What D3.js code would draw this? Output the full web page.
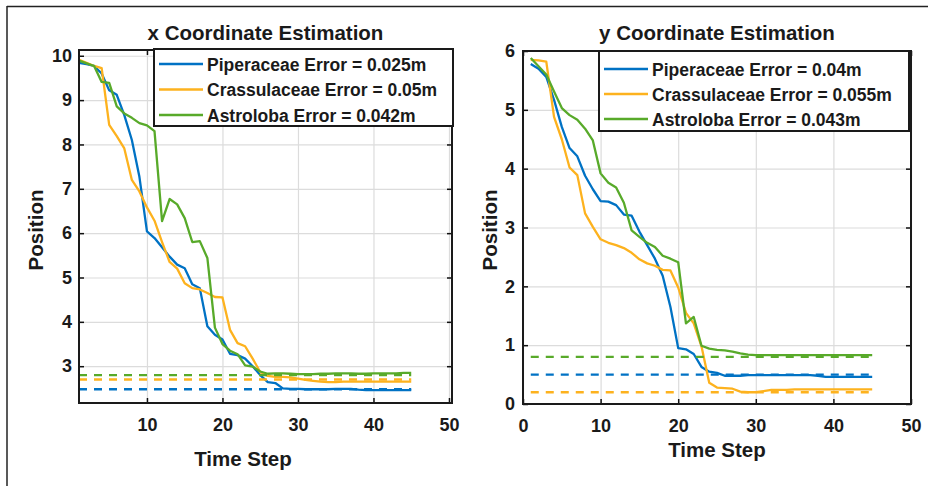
<!DOCTYPE html>
<html><head><meta charset="utf-8">
<script src="https://cdn.jsdelivr.net/npm/d3@7/dist/d3.min.js"></script>
<style>
html,body{margin:0;padding:0;background:#fff;}
svg{display:block;font-family:"Liberation Sans",Arial,sans-serif;}
</style></head>
<body><svg id="chart" width="928" height="486"></svg>
<script>
// ---------- data ----------
const timeSteps = [1,2,3,4,5,6,7,8,9,10,11,12,13,14,15,16,17,18,19,20,21,22,23,24,25,26,27,28,29,30,31,32,33,34,35,36,37,38,39,40,41,42,43,44,45];
const seriesNames = ["Piperaceae","Crassulaceae","Astroloba"];

// x coordinate estimation
const xPiperaceae = [9.84,9.81,9.77,9.6,9.22,9.12,8.66,8.1,7.27,6.04,5.89,5.68,5.47,5.29,5.21,4.85,4.76,3.9,3.71,3.6,3.28,3.25,3.17,3.0,2.8,2.64,2.62,2.5,2.49,2.49,2.48,2.48,2.48,2.48,2.49,2.49,2.49,2.47,2.46,2.46,2.46,2.46,2.46,2.46,2.46];
const xCrassulaceae = [9.91,9.84,9.77,9.72,8.44,8.19,7.91,7.2,6.94,6.58,6.28,5.8,5.35,5.2,4.87,4.76,4.73,4.65,4.56,4.55,3.82,3.52,3.45,3.17,2.87,2.78,2.76,2.76,2.75,2.72,2.69,2.67,2.65,2.64,2.64,2.65,2.65,2.65,2.65,2.65,2.65,2.65,2.65,2.65,2.65];
const xAstroloba = [9.89,9.83,9.77,9.41,9.39,8.86,8.7,8.6,8.48,8.43,8.3,6.27,6.77,6.65,6.34,5.8,5.82,5.44,3.87,3.5,3.35,3.27,3.02,2.99,2.88,2.83,2.84,2.84,2.83,2.82,2.82,2.82,2.83,2.83,2.84,2.84,2.84,2.83,2.83,2.84,2.84,2.84,2.84,2.85,2.85];
const xTrue = [2.48,2.7,2.8];
const xErrors = ["0.025m","0.05m","0.042m"];

// y coordinate estimation
const yPiperaceae = [5.78,5.7,5.56,5.17,4.71,4.35,4.21,3.88,3.65,3.45,3.44,3.38,3.22,3.2,2.93,2.7,2.47,2.18,1.65,0.95,0.93,0.85,0.63,0.55,0.53,0.48,0.48,0.48,0.49,0.49,0.49,0.49,0.49,0.49,0.49,0.49,0.49,0.48,0.46,0.46,0.46,0.46,0.46,0.46,0.46];
const yCrassulaceae = [5.85,5.84,5.82,4.88,4.5,4.02,3.89,3.24,3.01,2.8,2.74,2.7,2.65,2.57,2.46,2.39,2.35,2.28,2.27,1.98,1.55,1.37,0.98,0.36,0.28,0.27,0.26,0.21,0.2,0.2,0.22,0.24,0.24,0.24,0.25,0.25,0.25,0.25,0.25,0.25,0.25,0.25,0.25,0.25,0.25];
const yAstroloba = [5.88,5.74,5.6,5.31,5.03,4.91,4.83,4.68,4.48,3.92,3.76,3.68,3.42,2.95,2.84,2.74,2.67,2.52,2.47,2.41,1.37,1.48,0.99,0.94,0.92,0.91,0.89,0.86,0.84,0.83,0.83,0.83,0.83,0.83,0.83,0.83,0.83,0.83,0.83,0.83,0.83,0.83,0.83,0.83,0.83];
const yTrue = [0.5,0.2,0.8];
const yErrors = ["0.04m","0.055m","0.043m"];

const xTickValuesLeft = [10,20,30,40,50];
const yTickValuesLeft = [3,4,5,6,7,8,9,10];
const xTickValuesRight = [0,10,20,30,40,50];
const yTickValuesRight = [0,1,2,3,4,5,6];

const colors = ["#0072C4","#FDB21E","#58AA2A"];

// ---------- drawing ----------
const svg = d3.select("#chart");
svg.append("rect").attr("width",928).attr("height",486).attr("fill","#fff");
// outer frame (top and left only visible)
svg.append("line").attr("x1",7).attr("x2",928).attr("y1",6.5).attr("y2",6.5).attr("stroke","#222").attr("stroke-width",1.5);
svg.append("line").attr("x1",7).attr("x2",7).attr("y1",6).attr("y2",486).attr("stroke","#222").attr("stroke-width",1.5);

function drawPanel(p){
  const x = d3.scaleLinear().domain(p.xDomain).range(p.xRange);
  const y = d3.scaleLinear().domain(p.yDomain).range(p.yRange);
  const g = svg.append("g");
  const x0 = p.xRange[0], x1 = p.xRange[1], yb = p.yRange[0], yt = p.yRange[1];

  // grid
  g.append("g").attr("transform",`translate(0,${yb})`)
    .call(d3.axisBottom(x).tickValues(p.xTicks).tickSize(-(yb-yt)).tickFormat(""))
    .call(s=>{s.select(".domain").remove(); s.selectAll("line").attr("stroke","#dcdcdc").attr("stroke-width",1.2);});
  g.append("g").attr("transform",`translate(${x0},0)`)
    .call(d3.axisLeft(y).tickValues(p.yTicks).tickSize(-(x1-x0)).tickFormat(""))
    .call(s=>{s.select(".domain").remove(); s.selectAll("line").attr("stroke","#dcdcdc").attr("stroke-width",1.2);});

  // solid estimates
  const line = d3.line().x((d,i)=>x(timeSteps[i])).y(d=>y(d));
  p.series.forEach((s,i)=>{
    g.append("path").datum(s).attr("d",line).attr("fill","none")
      .attr("stroke",colors[i]).attr("stroke-width",2.3).attr("stroke-linejoin","round");
  });
  // dashed true positions
  p.truth.forEach((v,i)=>{
    g.append("line").attr("x1",x(timeSteps[0])).attr("x2",x(timeSteps[timeSteps.length-1]))
      .attr("y1",y(v)).attr("y2",y(v)).attr("stroke",colors[i]).attr("stroke-width",2.3)
      .attr("stroke-dasharray","8,7");
  });

  // small inward ticks on all four sides
  const tk = (axis, tr) => g.append("g").attr("transform",tr).call(axis)
    .call(s=>{s.select(".domain").remove(); s.selectAll("line").attr("stroke","#111").attr("stroke-width",1.5); s.selectAll("text").remove();});
  tk(d3.axisBottom(x).tickValues(p.xTicks).tickSize(-5), `translate(0,${yb})`);
  tk(d3.axisTop(x).tickValues(p.xTicks).tickSize(-5), `translate(0,${yt})`);
  tk(d3.axisLeft(y).tickValues(p.yTicks).tickSize(-5), `translate(${x0},0)`);
  tk(d3.axisRight(y).tickValues(p.yTicks).tickSize(-5), `translate(${x1},0)`);

  // box
  g.append("rect").attr("x",x0).attr("y",yt).attr("width",x1-x0).attr("height",yb-yt)
    .attr("fill","none").attr("stroke","#1a1a1a").attr("stroke-width",2);

  // tick labels
  g.append("g").attr("transform",`translate(0,${yb})`)
    .call(d3.axisBottom(x).tickValues(p.xTicks).tickSize(0).tickPadding(p.xLabelPad).tickFormat(d3.format("d")))
    .call(s=>{s.select(".domain").remove(); s.selectAll("text").attr("font-size",p.tickFont).attr("font-weight","bold").attr("fill","#1a1a1a").attr("font-family","Liberation Sans, Arial, sans-serif");});
  g.append("g").attr("transform",`translate(${x0},0)`)
    .call(d3.axisLeft(y).tickValues(p.yTicks).tickSize(0).tickPadding(p.yLabelPad).tickFormat(d3.format("d")))
    .call(s=>{s.select(".domain").remove(); s.selectAll("text").attr("font-size",p.tickFont).attr("font-weight","bold").attr("fill","#1a1a1a").attr("font-family","Liberation Sans, Arial, sans-serif");});

  // title and axis labels
  g.append("text").attr("x",(x0+x1)/2).attr("y",p.titleY).attr("text-anchor","middle")
    .attr("font-size",20.5).attr("font-weight","bold").attr("fill","#1a1a1a").text(p.title);
  g.append("text").attr("x",p.xLabelX).attr("y",p.xLabelY).attr("text-anchor","middle")
    .attr("font-size",20.5).attr("font-weight","bold").attr("fill","#1a1a1a").text("Time Step");
  g.append("text").attr("transform",`translate(${p.yLabelX},230) rotate(-90)`).attr("text-anchor","middle")
    .attr("font-size",20.5).attr("font-weight","bold").attr("fill","#1a1a1a").text("Position");

  // legend
  const L = p.legend;
  g.append("rect").attr("x",L.x).attr("y",L.y).attr("width",L.w).attr("height",L.h)
    .attr("fill","#fff").attr("stroke","#1a1a1a").attr("stroke-width",2);
  seriesNames.forEach((n,i)=>{
    const cy = L.y + L.row0 + i*L.dy;
    g.append("line").attr("x1",L.x+5).attr("x2",L.x+49).attr("y1",cy).attr("y2",cy)
      .attr("stroke",colors[i]).attr("stroke-width",2.3);
    g.append("text").attr("x",L.x+53).attr("y",cy+6.5).attr("font-size",L.font).attr("font-weight","bold")
      .attr("fill","#1a1a1a").text(`${n} Error = ${p.errors[i]}`);
  });
}

drawPanel({
  title:"x Coordinate Estimation", titleY:40,
  xDomain:[1,50.4], xRange:[79,452], yDomain:[2.17,10.13], yRange:[403,50],
  xTicks:xTickValuesLeft, yTicks:yTickValuesLeft,
  series:[xPiperaceae,xCrassulaceae,xAstroloba], truth:xTrue, errors:xErrors,
  tickFont:18, xLabelPad:15, yLabelPad:7,
  xLabelX:243, xLabelY:466, yLabelX:43,
  legend:{x:154,y:49,w:299,h:77,row0:15,dy:25.5,font:17.5}
});
drawPanel({
  title:"y Coordinate Estimation", titleY:40,
  xDomain:[0,50], xRange:[523,911], yDomain:[0,6], yRange:[404,51],
  xTicks:xTickValuesRight, yTicks:yTickValuesRight,
  series:[yPiperaceae,yCrassulaceae,yAstroloba], truth:yTrue, errors:yErrors,
  tickFont:18, xLabelPad:15, yLabelPad:8,
  xLabelX:717, xLabelY:457, yLabelX:497,
  legend:{x:599,y:51,w:310,h:80,row0:18,dy:25,font:17.5}
});
</script></body></html>
